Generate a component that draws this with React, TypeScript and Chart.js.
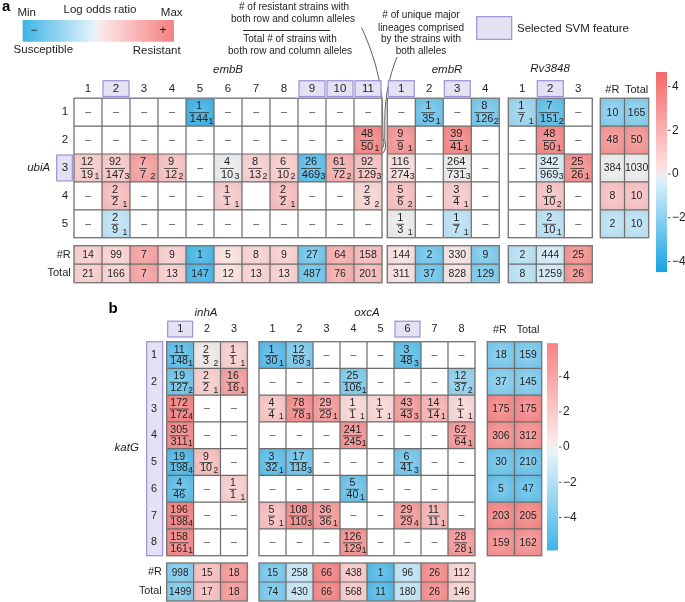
import React, { useEffect, useRef } from "react";
import { Chart, registerables } from "chart.js";
Chart.register(...registerables);

const W = 685;
const H = 602;
const FONT = "'Liberation Sans', Arial, Helvetica, sans-serif";

// ---------------- Panel a data ----------------
const aRowLabels = ["1", "2", "3", "4", "5"];
const aSvmRows = [3];
const aEmbBCols = ["1", "2", "3", "4", "5", "6", "7", "8", "9", "10", "11"];
const aEmbRCols = ["1", "2", "3", "4"];
const aRvCols = ["1", "2", "3"];
const aEmbBSvm = [2, 9, 10, 11];
const aEmbRSvm = [1, 3];
const aRvSvm = [2];

const aEmbBCells = [
  ["–", "–", "–", "–", "1/144/1", "–", "–", "–", "–", "–", "–"],
  ["–", "–", "–", "–", "–", "–", "–", "–", "–", "–", "48/50/1"],
  ["12/19/1", "92/147/3", "7/7/2", "9/12/2", "–", "4/10/3", "8/13/2", "6/10/2", "26/469/3", "61/72/2", "92/129/3"],
  ["–", "2/2/1", "–", "–", "–", "1/1/1", "", "2/2/1", "–", "–", "2/3/2"],
  ["–", "2/9/1", "–", "–", "–", "–", "–", "–", "–", "–", "–"],
];
const aEmbBLor = [
  [0, 0, 0, 0, -3.7, 0, 0, 0, 0, 0, 0],
  [0, 0, 0, 0, 0, 0, 0, 0, 0, 0, 3.6],
  [1.0, 1.1, 2.7, 1.4, 0, -0.05, 0.9, 1.0, -3.0, 2.1, 1.4],
  [0, 1.6, 0, 0, 0, 1.1, 0, 1.6, 0, 0, 0.7],
  [0, -0.9, 0, 0, 0, 0, 0, 0, 0, 0, 0],
];
const aEmbRCells = [
  ["–", "1/35/1", "–", "8/126/2"],
  ["9/9/1", "–", "39/41/1", "–"],
  ["116/274/3", "–", "264/731/3", "–"],
  ["5/6/2", "–", "3/4/1", "–"],
  ["1/3/1", "–", "1/7/1", "–"],
];
const aEmbRLor = [
  [0, -2.7, 0, -2.5],
  [3.1, 0, 3.6, 0],
  [0.3, 0, 0.03, 0],
  [1.5, 0, 1.1, 0],
  [0.0, 0, -1.0, 0],
];
const aRvCells = [
  ["1/7/1", "7/151/2", "–"],
  ["–", "48/50/1", "–"],
  ["–", "342/969/3", "25/26/1"],
  ["–", "8/10/2", "–"],
  ["–", "2/10/1", "–"],
];
const aRvLor = [
  [-1.7, -3.0, 0],
  [0, 3.6, 0],
  [0, -0.4, 3.3],
  [0, 1.3, 0],
  [0, -1.0, 0],
];
const aSumR = [10, 48, 384, 8, 2];
const aSumTotal = [165, 50, 1030, 10, 10];
const aSumLor = [-2.2, 3.2, 0, 1.5, -1.0];
const aEmbBR = [14, 99, 7, 9, 1, 5, 8, 9, 27, 64, 158];
const aEmbBTotal = [21, 166, 7, 13, 147, 12, 13, 13, 487, 76, 201];
const aEmbBColLor = [1.0, 0.8, 2.7, 1.0, -3.6, 0.3, 0.8, 0.9, -2.7, 2.2, 1.7];
const aEmbRR = [144, 2, 330, 9];
const aEmbRTotal = [311, 37, 828, 129];
const aEmbRColLor = [0.3, -2.7, 0.2, -2.4];
const aRvR = [2, 444, 25];
const aRvTotal = [8, 1259, 26];
const aRvColLor = [-1.1, -0.5, 3.3];
const aTicks = [4, 2, 0, -2, -4];

// ---------------- Panel b data ----------------
const bRowLabels = ["1", "2", "3", "4", "5", "6", "7", "8"];
const bInhACols = ["1", "2", "3"];
const bOxcACols = ["1", "2", "3", "4", "5", "6", "7", "8"];
const bInhASvm = [1];
const bOxcASvm = [6];
const bInhACells = [
  ["11/148/1", "2/3/2", "1/1/1"],
  ["19/127/2", "2/2/1", "16/16/1"],
  ["172/172/4", "–", "–"],
  ["305/311/1", "–", "–"],
  ["19/198/4", "9/10/2", "–"],
  ["4/46/", "–", "1/1/1"],
  ["196/198/4", "–", "–"],
  ["158/161/1", "–", "–"],
];
const bInhALor = [
  [-4.0, 0.1, 1.2],
  [-3.5, 1.2, 3.5],
  [4.8, 0, 0],
  [4.5, 0, 0],
  [-4.3, 2.0, 0],
  [-4.0, 0, 1.2],
  [4.8, 0, 0],
  [4.5, 0, 0],
];
const bOxcACells = [
  ["1/30/1", "12/68/3", "–", "–", "–", "3/48/3", "–", "–"],
  ["–", "–", "–", "25/106/1", "–", "–", "–", "12/37/2"],
  ["4/4/1", "78/78/3", "29/29/1", "1/1/1", "1/1/1", "43/43/3", "14/14/1", "1/1/1"],
  ["–", "–", "–", "241/245/1", "–", "–", "–", "62/64/1"],
  ["3/32/1", "17/118/3", "–", "–", "–", "6/41/3", "–", "–"],
  ["–", "–", "–", "5/40/1", "–", "–", "–", ""],
  ["5/5/1", "108/110/3", "36/36/1", "–", "–", "29/29/4", "11/11/1", "–"],
  ["–", "–", "–", "126/129/1", "–", "–", "–", "28/28/1"],
];
const bOxcALor = [
  [-4.2, -3.0, 0, 0, 0, -4.0, 0, 0],
  [0, 0, 0, -3.0, 0, 0, 0, -2.5],
  [1.6, 4.3, 3.6, 0.8, 0.8, 3.6, 2.4, 0.8],
  [0, 0, 0, 4.0, 0, 0, 0, 3.6],
  [-4.0, -3.4, 0, 0, 0, -3.4, 0, 0],
  [0, 0, 0, -3.6, 0, 0, 0, 0],
  [2.0, 4.2, 3.6, 0, 0, 3.6, 2.4, 0],
  [0, 0, 0, 3.9, 0, 0, 0, 3.6],
];
const bSumR = [18, 37, 175, 306, 30, 5, 203, 159];
const bSumTotal = [159, 145, 175, 312, 210, 47, 205, 162];
const bSumLor = [-3.2, -3.0, 4.6, 4.2, -3.6, -3.8, 4.6, 4.2];
const bInhAR = [998, 15, 18];
const bInhATotal = [1499, 17, 18];
const bInhAColLor = [-3.0, 2.0, 3.8];
const bOxcAR = [15, 258, 66, 438, 1, 96, 26, 112];
const bOxcATotal = [74, 430, 66, 568, 11, 180, 26, 146];
const bOxcAColLor = [-3.3, -1.0, 4.8, 1.4, -4.4, -1.2, 4.4, 0.9];
const bTicks = [4, 2, 0, -2, -4];

// ---------------- Layout ----------------
const LA = {
  rowTop: 98.2, rowH: 27.9, cw: 28, embBX: 74, embRX: 387.3, rvX: 508.3,
  sumX: 600.3, sumW: 24.2, headY: 88.5, geneY: 70, bottomY: 245.7, bottomH: 18.5,
  rowLabelX: 65, cbX: 656, cbW: 11, cbTop: 72, cbBot: 271.5, vmin: -4.46, vmax: 4.67,
};
const LB = {
  rowTop: 341.7, rowH: 26.75, inhX: 166.7, inhW: 26.9, oxcX: 259, cw: 27,
  sumX: 487.3, sumW: 27.2, headY: 329, geneY: 313, bottomY: 563, bottomH: 19,
  rowLabelX: 154, cbX: 547, cbW: 11, cbTop: 343.3, cbBot: 550, vmin: -5.85, vmax: 5.9,
};

type RGB = [number, number, number];
const ZERO: RGB = [238, 238, 238];
const LPINK: RGB = [252, 225, 225];
const RED: RGB = [244, 104, 104];
const LBLUE: RGB = [222, 240, 250];
const BLUE: RGB = [22, 164, 226];

function mix(a: RGB, b: RGB, t: number): RGB {
  return [a[0] + (b[0] - a[0]) * t, a[1] + (b[1] - a[1]) * t, a[2] + (b[2] - a[2]) * t];
}
function rgb(c: RGB) {
  return `rgb(${Math.round(c[0])},${Math.round(c[1])},${Math.round(c[2])})`;
}
function colorFor(v: number, vmin: number, vmax: number): RGB {
  if (v >= 0) {
    const f = Math.min(1, v / vmax);
    return f < 0.06 ? mix(ZERO, LPINK, f / 0.06) : mix(LPINK, RED, (f - 0.06) / 0.94);
  }
  const f = Math.min(1, v / vmin);
  return f < 0.06 ? mix(ZERO, LBLUE, f / 0.06) : mix(LBLUE, BLUE, (f - 0.06) / 0.94);
}

function text(ctx: CanvasRenderingContext2D, s: string, x: number, y: number, font: string, align: CanvasTextAlign = "center", color = "#1e1e1e") {
  ctx.font = font;
  ctx.textAlign = align;
  ctx.textBaseline = "middle";
  ctx.fillStyle = color;
  ctx.fillText(s, x, y);
}

function fillCell(ctx: CanvasRenderingContext2D, x: number, y: number, w: number, h: number, c: RGB) {
  const g = ctx.createRadialGradient(x + w / 2, y + h / 2, 0, x + w / 2, y + h / 2, Math.max(w, h) * 0.72);
  g.addColorStop(0, rgb(mix(c, [255, 255, 255], 0.2)));
  g.addColorStop(1, rgb(mix(c, [0, 0, 0], 0.05)));
  ctx.fillStyle = g;
  ctx.fillRect(x, y, w, h);
}

function drawFraction(ctx: CanvasRenderingContext2D, cx: number, cy: number, s: string, px: number, h: number) {
  const [num, den, sub] = s.split("/");
  const f = `${px}px ${FONT}`;
  ctx.font = f;
  const wn = ctx.measureText(num).width;
  const wd = ctx.measureText(den).width;
  const fx = cx - 1;
  const dy = h * 0.215;
  text(ctx, num, fx, cy - dy + 0.3, f);
  text(ctx, den, fx, cy + dy + 0.6, f);
  const lw = Math.max(wn, wd) + 1.5;
  ctx.strokeStyle = "#2a2a2a";
  ctx.lineWidth = 0.8;
  ctx.beginPath();
  ctx.moveTo(fx - lw / 2, cy + 0.5);
  ctx.lineTo(fx + lw / 2, cy + 0.5);
  ctx.stroke();
  if (sub) {
    text(ctx, sub, fx + Math.max(wd / 2 + 0.3, 7.5), cy + h * 0.32, `${px * 0.8}px ${FONT}`, "left");
  }
}

type Fn = (v: number) => number;

function drawBlock(
  ctx: CanvasRenderingContext2D, X: Fn, Y: Fn, x0: number, y0: number, cw: number, rh: number,
  cells: string[][], lors: number[][], vmin: number, vmax: number, fracPx: number, countPx: number
) {
  const nR = cells.length;
  const nC = cells[0].length;
  for (let r = 0; r < nR; r++) {
    for (let c = 0; c < nC; c++) {
      const l = X(x0 + c * cw), t = Y(y0 + r * rh);
      const rr = X(x0 + (c + 1) * cw), b = Y(y0 + (r + 1) * rh);
      const w = rr - l, h = b - t;
      const cx = l + w / 2, cy = t + h / 2;
      const s = cells[r][c];
      if (s === "–" || s === "") {
        ctx.fillStyle = "#ffffff";
        ctx.fillRect(l, t, w, h);
        if (s === "–") text(ctx, "–", cx, cy, `${fracPx}px ${FONT}`, "center", "#4a4a4a");
      } else {
        fillCell(ctx, l, t, w, h, colorFor(lors[r][c], vmin, vmax));
        if (s.includes("/")) drawFraction(ctx, cx, cy, s, fracPx, h);
        else text(ctx, s, cx, cy + 0.5, `${countPx}px ${FONT}`);
      }
    }
  }
  ctx.strokeStyle = "#6b6b6b";
  ctx.lineWidth = 1.2;
  ctx.beginPath();
  for (let c = 1; c < nC; c++) {
    const x = X(x0 + c * cw);
    ctx.moveTo(x, Y(y0));
    ctx.lineTo(x, Y(y0 + nR * rh));
  }
  for (let r = 1; r < nR; r++) {
    const y = Y(y0 + r * rh);
    ctx.moveTo(X(x0), y);
    ctx.lineTo(X(x0 + nC * cw), y);
  }
  ctx.stroke();
  ctx.strokeStyle = "#7a7a7a";
  ctx.lineWidth = 1.4;
  ctx.strokeRect(X(x0), Y(y0), X(x0 + nC * cw) - X(x0), Y(y0 + nR * rh) - Y(y0));
}

function svmBox(ctx: CanvasRenderingContext2D, x: number, y: number, w: number, h: number) {
  ctx.fillStyle = "#e4e1f3";
  ctx.fillRect(x, y, w, h);
  ctx.strokeStyle = "#9c90d6";
  ctx.lineWidth = 1.2;
  ctx.strokeRect(x, y, w, h);
}

function drawHeaders(ctx: CanvasRenderingContext2D, X: Fn, Y: Fn, x0: number, cw: number, labels: string[], svm: number[], y: number, px: number) {
  labels.forEach((lab, i) => {
    const l = X(x0 + i * cw), r = X(x0 + (i + 1) * cw);
    if (svm.includes(i + 1)) svmBox(ctx, l + 1, Y(y - 7.8), r - l - 2, Y(y + 8) - Y(y - 7.8));
    text(ctx, lab, (l + r) / 2, Y(y), `${px}px ${FONT}`);
  });
}

function countRows(a: number[], b: number[]) {
  return [a.map(String), b.map(String)];
}
function pairRows(a: number[], b: number[]) {
  return a.map((v, i) => [String(v), String(b[i])]);
}

function drawColorbar(ctx: CanvasRenderingContext2D, X: Fn, Y: Fn, x: number, w: number, top: number, bot: number, vmin: number, vmax: number, ticks: number[], px: number) {
  const l = X(x), r = X(x + w), t = Y(top), b = Y(bot);
  const n = Math.ceil(b - t);
  for (let i = 0; i < n; i++) {
    const v = vmax - ((i + 0.5) / n) * (vmax - vmin);
    ctx.fillStyle = rgb(colorFor(v, vmin, vmax));
    ctx.fillRect(l, t + i, r - l, 1.1);
  }
  ticks.forEach((v) => {
    const y = Y(top + ((vmax - v) / (vmax - vmin)) * (bot - top));
    ctx.strokeStyle = "#555";
    ctx.lineWidth = 1;
    ctx.beginPath();
    ctx.moveTo(r + 1, y);
    ctx.lineTo(r + 3.5, y);
    ctx.stroke();
    const lab = v < 0 ? "−" + Math.abs(v) : String(v);
    text(ctx, lab, r + 5, y, `${px}px ${FONT}`, "left");
  });
}

function drawAll(ctx: CanvasRenderingContext2D, X: Fn, Y: Fn) {
  // ---------- Panel a ----------
  text(ctx, "a", X(2), Y(7), `bold 15px ${FONT}`, "left", "#000");
  // legend
  text(ctx, "Min", X(26.7), Y(12.7), `11.5px ${FONT}`);
  text(ctx, "Log odds ratio", X(100), Y(9.5), `11.5px ${FONT}`);
  text(ctx, "Max", X(171.7), Y(12.7), `11.5px ${FONT}`);
  const gl = X(22.7), gr = X(173.3), gt = Y(20), gb = Y(41.7);
  for (let i = 0; i < Math.ceil(gr - gl); i++) {
    const v = -1 + (2 * (i + 0.5)) / (gr - gl);
    ctx.fillStyle = rgb(colorFor(v * 0.95, -1, 1));
    ctx.fillRect(gl + i, gt, 1.1, gb - gt);
  }
  text(ctx, "−", X(34), Y(31), `12px ${FONT}`, "center", "#222");
  text(ctx, "+", X(163), Y(30.5), `12px ${FONT}`, "center", "#222");
  text(ctx, "Susceptible", X(43.3), Y(49.5), `11.5px ${FONT}`);
  text(ctx, "Resistant", X(156.7), Y(50.7), `11.5px ${FONT}`);

  // annotations
  const af = `10px ${FONT}`;
  text(ctx, "# of resistant strains with", X(294), Y(7.5), af);
  text(ctx, "both row and column alleles", X(293), Y(19.5), af);
  ctx.strokeStyle = "#222";
  ctx.lineWidth = 1;
  ctx.beginPath();
  ctx.moveTo(X(243), Y(30.5));
  ctx.lineTo(X(330), Y(30.5));
  ctx.stroke();
  text(ctx, "Total # of strains with", X(290), Y(39.5), af);
  text(ctx, "both row and column alleles", X(290), Y(51), af);
  text(ctx, "# of unique major", X(421), Y(15.5), af);
  text(ctx, "lineages comprised", X(421), Y(28), af);
  text(ctx, "by the strains with", X(421), Y(39.5), af);
  text(ctx, "both alleles", X(421), Y(51.5), af);
  ctx.strokeStyle = "#333";
  ctx.lineWidth = 0.8;
  ctx.beginPath();
  ctx.moveTo(X(361.5), Y(27.5));
  ctx.bezierCurveTo(X(372), Y(50), X(382), Y(80), X(382.5), Y(110));
  ctx.lineTo(X(383), Y(138));
  ctx.quadraticCurveTo(X(386), Y(147), X(379), Y(152));
  ctx.moveTo(X(397), Y(57));
  ctx.bezierCurveTo(X(392), Y(70), X(385), Y(90), X(384.8), Y(120));
  ctx.lineTo(X(384.8), Y(140));
  ctx.quadraticCurveTo(X(387.5), Y(150), X(381), Y(155));
  ctx.stroke();
  svmBox(ctx, X(476.7), Y(16.7), X(511.7) - X(476.7), Y(39.3) - Y(16.7));
  text(ctx, "Selected SVM feature", X(517), Y(28.5), `11.5px ${FONT}`, "left");

  // gene labels
  const gf = `italic 11.5px ${FONT}`;
  text(ctx, "embB", X(228), Y(70), gf);
  text(ctx, "embR", X(447), Y(70), gf);
  text(ctx, "Rv3848", X(550), Y(68.5), gf);
  text(ctx, "ubiA", X(38.7), Y(167.7), gf);

  // headers
  drawHeaders(ctx, X, Y, LA.embBX, LA.cw, aEmbBCols, aEmbBSvm, LA.headY, 11.5);
  drawHeaders(ctx, X, Y, LA.embRX, LA.cw, aEmbRCols, aEmbRSvm, LA.headY, 11.5);
  drawHeaders(ctx, X, Y, LA.rvX, LA.cw, aRvCols, aRvSvm, LA.headY, 11.5);
  text(ctx, "#R", X(LA.sumX + LA.sumW / 2), Y(LA.headY + 1), `11px ${FONT}`);
  text(ctx, "Total", X(LA.sumX + LA.sumW * 1.5), Y(LA.headY + 1), `11px ${FONT}`);

  // row labels
  aRowLabels.forEach((lab, i) => {
    const t = Y(LA.rowTop + i * LA.rowH), b = Y(LA.rowTop + (i + 1) * LA.rowH);
    if (aSvmRows.includes(i + 1)) svmBox(ctx, X(56.7), t + 1, X(72.3) - X(56.7), b - t - 2);
    text(ctx, lab, X(LA.rowLabelX), (t + b) / 2, `11.5px ${FONT}`);
  });

  // blocks
  drawBlock(ctx, X, Y, LA.embBX, LA.rowTop, LA.cw, LA.rowH, aEmbBCells, aEmbBLor, LA.vmin, LA.vmax, 11, 10.5);
  drawBlock(ctx, X, Y, LA.embRX, LA.rowTop, LA.cw, LA.rowH, aEmbRCells, aEmbRLor, LA.vmin, LA.vmax, 11, 10.5);
  drawBlock(ctx, X, Y, LA.rvX, LA.rowTop, LA.cw, LA.rowH, aRvCells, aRvLor, LA.vmin, LA.vmax, 11, 10.5);
  drawBlock(ctx, X, Y, LA.sumX, LA.rowTop, LA.sumW, LA.rowH, pairRows(aSumR, aSumTotal), aSumLor.map((v) => [v, v]), LA.vmin, LA.vmax, 11, 10.5);

  // bottom rows
  drawBlock(ctx, X, Y, LA.embBX, LA.bottomY, LA.cw, LA.bottomH, countRows(aEmbBR, aEmbBTotal), [aEmbBColLor, aEmbBColLor], LA.vmin, LA.vmax, 11, 10.5);
  drawBlock(ctx, X, Y, LA.embRX, LA.bottomY, LA.cw, LA.bottomH, countRows(aEmbRR, aEmbRTotal), [aEmbRColLor, aEmbRColLor], LA.vmin, LA.vmax, 11, 10.5);
  drawBlock(ctx, X, Y, LA.rvX, LA.bottomY, LA.cw, LA.bottomH, countRows(aRvR, aRvTotal), [aRvColLor, aRvColLor], LA.vmin, LA.vmax, 11, 10.5);
  text(ctx, "#R", X(70.7), Y(LA.bottomY + LA.bottomH / 2), `11px ${FONT}`, "right");
  text(ctx, "Total", X(70.7), Y(LA.bottomY + LA.bottomH * 1.5), `11px ${FONT}`, "right");

  drawColorbar(ctx, X, Y, LA.cbX, LA.cbW, LA.cbTop, LA.cbBot, LA.vmin, LA.vmax, aTicks, 12);

  // ---------- Panel b ----------
  text(ctx, "b", X(113), Y(309), `bold 15px ${FONT}`, "center", "#000");
  text(ctx, "inhA", X(206), Y(LB.geneY), gf);
  text(ctx, "oxcA", X(367), Y(LB.geneY), gf);
  text(ctx, "katG", X(126.7), Y(447.5), gf);

  drawHeaders(ctx, X, Y, LB.inhX, LB.inhW, bInhACols, bInhASvm, LB.headY, 10.8);
  drawHeaders(ctx, X, Y, LB.oxcX, LB.cw, bOxcACols, bOxcASvm, LB.headY, 10.8);
  text(ctx, "#R", X(LB.sumX + LB.sumW / 2 - 1), Y(LB.headY + 1), `10.8px ${FONT}`);
  text(ctx, "Total", X(LB.sumX + LB.sumW * 1.5), Y(LB.headY + 1), `10.8px ${FONT}`);

  svmBox(ctx, X(146.7), Y(LB.rowTop), X(162.7) - X(146.7), Y(LB.rowTop + 8 * LB.rowH) - Y(LB.rowTop));
  bRowLabels.forEach((lab, i) => {
    text(ctx, lab, X(LB.rowLabelX), Y(LB.rowTop + (i + 0.5) * LB.rowH), `10.8px ${FONT}`);
  });

  drawBlock(ctx, X, Y, LB.inhX, LB.rowTop, LB.inhW, LB.rowH, bInhACells, bInhALor, LB.vmin, LB.vmax, 10.6, 10.3);
  drawBlock(ctx, X, Y, LB.oxcX, LB.rowTop, LB.cw, LB.rowH, bOxcACells, bOxcALor, LB.vmin, LB.vmax, 10.6, 10.3);
  drawBlock(ctx, X, Y, LB.sumX, LB.rowTop, LB.sumW, LB.rowH, pairRows(bSumR, bSumTotal), bSumLor.map((v) => [v, v]), LB.vmin, LB.vmax, 10.6, 10.3);

  drawBlock(ctx, X, Y, LB.inhX, LB.bottomY, LB.inhW, LB.bottomH, countRows(bInhAR, bInhATotal), [bInhAColLor, bInhAColLor], LB.vmin, LB.vmax, 10.6, 10);
  drawBlock(ctx, X, Y, LB.oxcX, LB.bottomY, LB.cw, LB.bottomH, countRows(bOxcAR, bOxcATotal), [bOxcAColLor, bOxcAColLor], LB.vmin, LB.vmax, 10.6, 10);
  text(ctx, "#R", X(161.7), Y(LB.bottomY + LB.bottomH / 2), `10.8px ${FONT}`, "right");
  text(ctx, "Total", X(161.7), Y(LB.bottomY + LB.bottomH * 1.5), `10.8px ${FONT}`, "right");

  drawColorbar(ctx, X, Y, LB.cbX, LB.cbW, LB.cbTop, LB.cbBot, LB.vmin, LB.vmax, bTicks, 12);
}

const figurePlugin = {
  id: "figure",
  beforeDraw(chart: any) {
    const ctx = chart.ctx as CanvasRenderingContext2D;
    ctx.save();
    ctx.fillStyle = "#ffffff";
    ctx.fillRect(0, 0, chart.width, chart.height);
    ctx.restore();
  },
  afterDraw(chart: any) {
    const ctx = chart.ctx as CanvasRenderingContext2D;
    const sx = chart.scales.x;
    const sy = chart.scales.y;
    const X = (v: number) => sx.getPixelForValue(v);
    const Y = (v: number) => sy.getPixelForValue(v);
    ctx.save();
    drawAll(ctx, X, Y);
    ctx.restore();
  },
};

export default function App() {
  const ref = useRef<HTMLCanvasElement>(null);
  useEffect(() => {
    document.body.style.margin = "0";
    const canvas = ref.current!;
    const chart = new Chart(canvas, {
      type: "scatter",
      data: { datasets: [] },
      options: {
        responsive: false,
        animation: false,
        devicePixelRatio: 1,
        events: [],
        layout: { padding: 0 },
        plugins: { legend: { display: false }, tooltip: { enabled: false }, title: { display: false } },
        scales: {
          x: { type: "linear", min: 0, max: W, display: false },
          y: { type: "linear", min: 0, max: H, reverse: true, display: false },
        },
      },
      plugins: [figurePlugin],
    } as any);
    return () => chart.destroy();
  }, []);
  return <canvas ref={ref} width={W} height={H} style={{ display: "block", width: W, height: H }} />;
}
